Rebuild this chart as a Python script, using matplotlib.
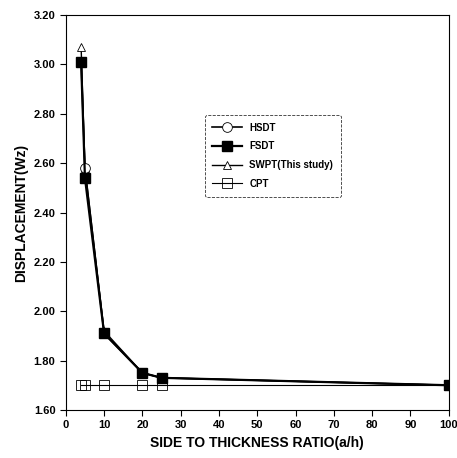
import matplotlib
matplotlib.use("Agg")
import matplotlib.pyplot as plt

plt.rcParams['font.family'] = ['Liberation Sans', 'DejaVu Sans']
plt.rcParams['font.weight'] = 'bold'

# side to thickness ratio
ratio = [4, 5, 10, 20, 25, 100]
hsdt = [3.01, 2.58, 1.91, 1.75, 1.73, 1.70]
fsdt = [3.01, 2.54, 1.91, 1.75, 1.73, 1.70]
swpt = [3.07, 2.58, 1.92, 1.75, 1.73, 1.70]
cpt = [1.70, 1.70, 1.70, 1.70, 1.70, 1.70]

fig = plt.figure(figsize=(4.57, 4.58), dpi=100)
ax = fig.add_axes([0.144, 0.105, 0.838, 0.862])

ax.plot(ratio, hsdt, color='black', lw=1.2, marker='o', ms=7, mfc='white', mec='black', mew=0.6, label='HSDT', zorder=3)
ax.plot(ratio, fsdt, color='black', lw=1.6, marker='s', ms=7, mfc='black', mec='black', label='FSDT', zorder=5)
ax.plot(ratio, swpt, color='black', lw=1.0, marker='^', ms=6, mfc='white', mec='black', mew=0.6, label='SWPT(This study)', zorder=2)
ax.plot(ratio, cpt, color='black', lw=0.8, marker='s', ms=7, mfc='none', mec='black', mew=0.6, label='CPT', zorder=4)

ax.set_xlim(0, 100)
ax.set_ylim(1.60, 3.20)
ax.set_xticks(range(0, 101, 10))
ax.set_yticks([1.6, 1.8, 2.0, 2.2, 2.4, 2.6, 2.8, 3.0, 3.2])
ax.set_yticklabels(['%.2f' % v for v in ax.get_yticks()])
ax.tick_params(direction='out', labelsize=8, length=4)

ax.set_xlabel('SIDE TO THICKNESS RATIO(a/h)', fontsize=10, fontweight='bold')
ax.set_ylabel('DISPLACEMENT(Wz)', fontsize=10, fontweight='bold')

leg = ax.legend(loc='upper left', bbox_to_anchor=(0.35, 0.76), fontsize=7, frameon=True,
                fancybox=True, edgecolor='black', handlelength=3, borderpad=0.8, labelspacing=0.9)
leg.get_frame().set_linewidth(0.6)
leg.get_frame().set_linestyle('--')

fig.savefig('out.png', dpi=100)
